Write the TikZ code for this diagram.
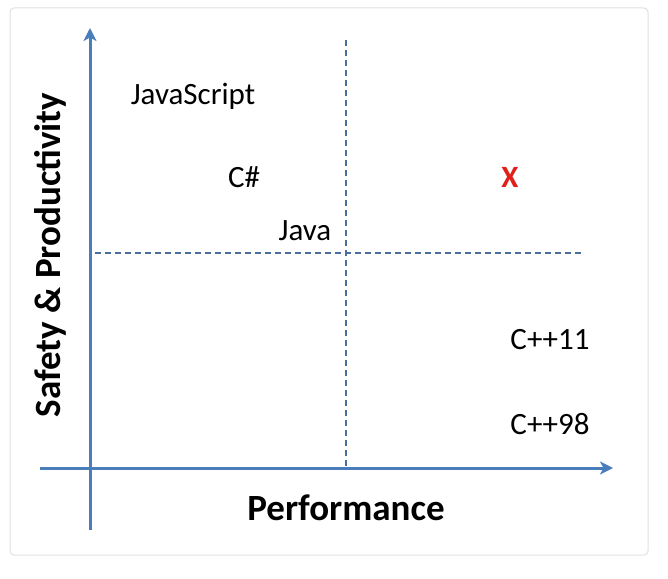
\documentclass[tikz,border=0pt]{standalone}
\usepackage{fontspec}
\setmainfont{Carlito}
\usetikzlibrary{arrows.meta}
\definecolor{axisblue}{HTML}{4A7EBB}
\definecolor{dashblue}{HTML}{4A6F9E}
\definecolor{framegray}{HTML}{E0E0E0}
\definecolor{xred}{HTML}{E0201B}
\begin{document}
\begin{tikzpicture}[x=1pt,y=-1pt,
  axis/.style={draw=axisblue,line width=3pt,-{Stealth[length=13pt,width=13pt,inset=3.5pt]}},
  divider/.style={draw=dashblue,line width=1.3pt,dash pattern=on 6pt off 4pt},
  lang/.style={font=\fontsize{31}{36}\selectfont,inner sep=0pt},
  axlabel/.style={font=\fontsize{37}{44}\selectfont\bfseries,inner sep=0pt}]
\useasboundingbox (0,0) rectangle (668,578);
\draw[framegray,line width=1pt,rounded corners=4pt] (10,8) rectangle (648,555);
% dashed dividers
\coordinate (vtop) at (346,40);
\coordinate (vbot) at (346,468);
\coordinate (hl) at (95,253);
\coordinate (hr) at (582,253);
\draw[divider] (vtop) -- (vbot);
\draw[divider] (hl) -- (hr);
% axes
\coordinate (ybot) at (90,530);
\coordinate (ytop) at (90,28);
\coordinate (xl) at (40,468);
\coordinate (xr) at (613,468);
\draw[axis] (ybot) -- (ytop);
\draw[axis] (xl) -- (xr);
% labels
\node[lang] (js) at (193,96) {JavaScript};
\node[lang] (cs) at (244,177) {C\#};
\node[lang] (java) at (305,231) {Java};
\node[lang,text=xred,font=\fontsize{31}{36}\selectfont\bfseries] (x) at (510,177) {X};
\node[lang] (c11) at (550,340) {C++11};
\node[lang] (c98) at (550,424) {C++98};
\node[axlabel] (perf) at (346,508) {Performance};
\node[axlabel,rotate=90] (safe) at (50,255) {Safety \& Productivity};
\end{tikzpicture}
\end{document}
